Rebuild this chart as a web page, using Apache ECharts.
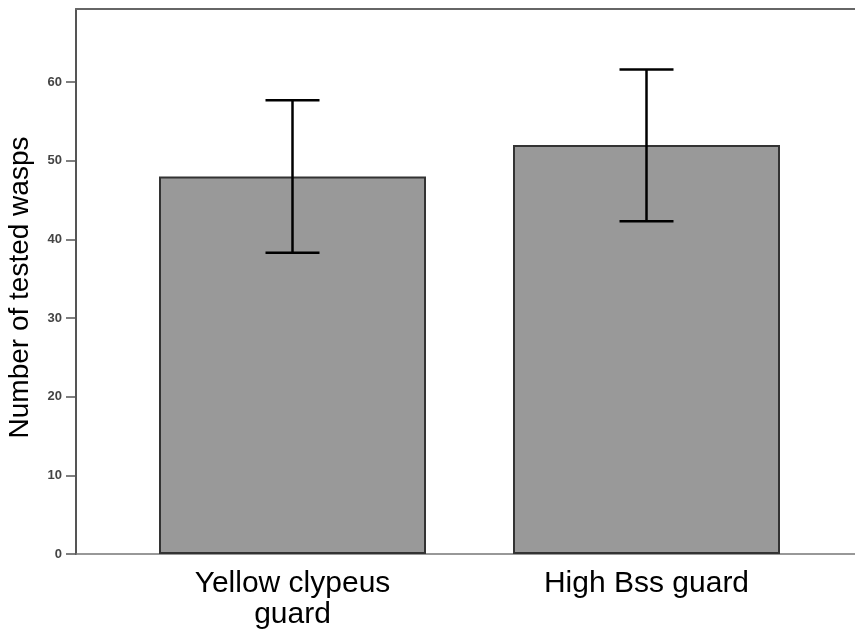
<!DOCTYPE html>
<html>
<head>
<meta charset="utf-8">
<script src="https://cdn.jsdelivr.net/npm/echarts@6/dist/echarts.min.js"></script>
<style>
html,body{margin:0;padding:0;background:#fff;}
#chart{width:855px;height:633px;}
</style>
</head>
<body>
<div id="chart"></div>
<script>
const categories = ['Yellow clypeus\nguard', 'High Bss guard'];
const means = [48, 52];
const ciLow = [38.3, 42.3];
const ciHigh = [57.7, 61.6];
const yTicks = [0, 10, 20, 30, 40, 50, 60];
const yMax = 69.3;
const yTitle = 'Number of tested wasps';

const chart = echarts.init(document.getElementById('chart'), null, {renderer: 'canvas'});
const font = '"Liberation Sans", Arial, sans-serif';

const errData = categories.map((c, i) => [i, ciLow[i], ciHigh[i]]);

chart.setOption({
  animation: false,
  backgroundColor: '#ffffff',
  grid: [
    {left: 115.5, right: 31.5, top: 9, bottom: 79, outerBoundsMode: 'none', containLabel: false},
    {left: 76, right: -20, top: 9, bottom: 79, outerBoundsMode: 'none', containLabel: false}
  ],
  xAxis: [
    {
      type: 'category', gridIndex: 0, data: categories,
      axisLine: {show: false}, axisTick: {show: false},
      axisLabel: {fontFamily: font, fontSize: 30, color: '#000', margin: 14, lineHeight: 31}
    },
    {
      type: 'value', gridIndex: 1, min: 0, max: 1, position: 'bottom',
      axisLine: {show: true, lineStyle: {color: '#777', width: 1.5}},
      axisTick: {show: false}, axisLabel: {show: false}, splitLine: {show: false}
    },
    {
      type: 'value', gridIndex: 1, min: 0, max: 1, position: 'top',
      axisLine: {show: true, lineStyle: {color: '#666', width: 2}},
      axisTick: {show: false}, axisLabel: {show: false}, splitLine: {show: false}
    }
  ],
  yAxis: [
    {
      type: 'value', gridIndex: 0, min: 0, max: yMax, show: false
    },
    {
      type: 'value', gridIndex: 1, min: 0, max: yMax,
      name: yTitle, nameLocation: 'middle', nameGap: 42,
      nameTextStyle: {fontFamily: font, fontSize: 28, color: '#000', padding: [0, 12, 0, 0]},
      axisLine: {show: true, lineStyle: {color: '#555', width: 2}},
      axisTick: {show: true, length: 10, customValues: yTicks, lineStyle: {color: '#555', width: 1.5}},
      axisLabel: {customValues: yTicks, fontFamily: font, fontSize: 13, fontWeight: 'bold', color: '#444', margin: 14},
      splitLine: {show: false}
    }
  ],
  series: [
    {
      type: 'bar', xAxisIndex: 0, yAxisIndex: 0, data: means,
      barWidth: 267,
      itemStyle: {color: '#999999', borderColor: '#333333', borderWidth: 2}
    },
    {
      type: 'custom', xAxisIndex: 0, yAxisIndex: 0, data: errData, z: 10,
      renderItem: function (params, api) {
        const x = api.value(0);
        const top = api.coord([x, api.value(2)]);
        const bot = api.coord([x, api.value(1)]);
        const hw = 27;
        const style = {stroke: '#000', lineWidth: 2.5};
        return {
          type: 'group',
          children: [
            {type: 'line', shape: {x1: top[0], y1: top[1], x2: bot[0], y2: bot[1]}, style: style},
            {type: 'line', shape: {x1: top[0] - hw, y1: top[1], x2: top[0] + hw, y2: top[1]}, style: style},
            {type: 'line', shape: {x1: bot[0] - hw, y1: bot[1], x2: bot[0] + hw, y2: bot[1]}, style: style}
          ]
        };
      }
    }
  ]
});
</script>
</body>
</html>
